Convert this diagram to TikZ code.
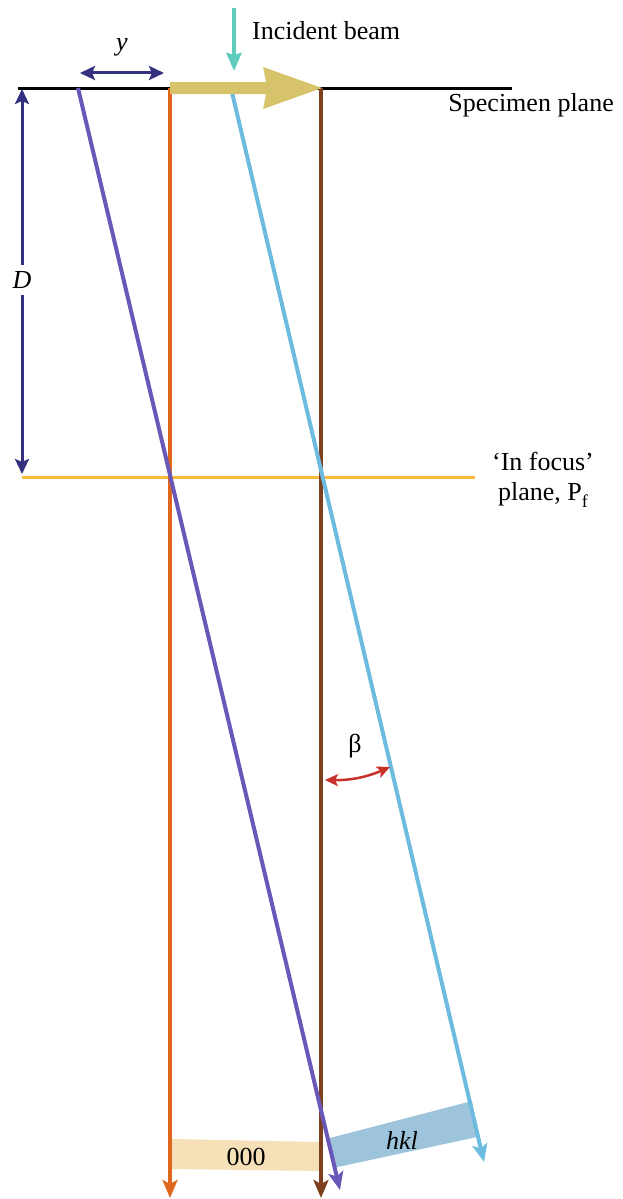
\documentclass[tikz,border=0pt]{standalone}
\usepackage{fontspec}
\setmainfont{Liberation Serif}
\usetikzlibrary{arrows.meta,calc}
\definecolor{navy}{HTML}{33307F}
\definecolor{teal1}{HTML}{5FCDBE}
\definecolor{khaki}{HTML}{D6C36A}
\definecolor{orng}{HTML}{E0661B}
\definecolor{brwn}{HTML}{7E3F1F}
\definecolor{purp}{HTML}{6A58B8}
\definecolor{lblue}{HTML}{6DBCDF}
\definecolor{yline}{HTML}{F7BC3C}
\definecolor{redarr}{HTML}{C8312A}
\definecolor{peach}{HTML}{F6E0B8}
\definecolor{bandblue}{HTML}{9DC4DA}
\tikzset{
  ray/.style={line width=4pt,-{Stealth[length=18pt,width=15pt,inset=4pt]}},
  dim/.style={line width=3pt,navy,{Stealth[length=15pt,width=14pt,inset=3pt]}-{Stealth[length=15pt,width=14pt,inset=3pt]}},
  lbl/.style={font=\fontsize{26}{30}\selectfont,inner sep=1pt},
}
\begin{document}
\begin{tikzpicture}[x=1pt,y=-1pt]
\useasboundingbox (0,0) rectangle (623,1199);
% coordinates
\coordinate (sL) at (18,88);
\coordinate (sR) at (512,88);
\coordinate (fL) at (22,477);
\coordinate (fR) at (475,477);
\coordinate (oTop) at (170,88);
\coordinate (oBot) at (170,1198);
\coordinate (bTop) at (321,88);
\coordinate (bBot) at (321,1198);
\coordinate (pTop) at (78,88);
\coordinate (pBot) at (340,1190);
\coordinate (cTop) at (231,88);
\coordinate (cBot) at (484,1162);
% bands
\fill[peach] (172,1139) -- (321,1142) -- (321,1171) -- (172,1169) -- cycle;
\fill[bandblue] (330,1138) -- (472,1101) -- (477,1137) -- (333,1168) -- cycle;
\node[lbl] (zero) at (246,1157) {000};
\node[lbl,font=\fontsize{26}{30}\selectfont\itshape] (hkl) at (402,1140) {hkl};
% planes
\draw[line width=3pt,black] (sL) -- (sR);
\draw[line width=3pt,yline] (fL) -- (fR);
% rays
\draw[ray,orng] (oTop) -- (oBot);
\draw[ray,brwn] (bTop) -- (bBot);
\draw[ray,lblue] (cTop) -- (cBot);
\draw[ray,purp] (pTop) -- (pBot);
% khaki arrow
\fill[khaki] (170,82) -- (266,82) -- (263,67) -- (322,88) -- (263,109) -- (266,94) -- (170,94) -- cycle;
% incident beam
\coordinate (iTop) at (234,8);
\coordinate (iBot) at (234,71);
\draw[line width=4pt,teal1,-{Stealth[length=18pt,width=15pt,inset=2pt]}] (iTop) -- (iBot);
\node[lbl,anchor=west] (inc) at (251,31) {Incident beam};
% y dimension
\coordinate (yL) at (80,73);
\coordinate (yR) at (164,73);
\draw[dim] (yL) -- (yR);
\node[lbl,font=\fontsize{26}{30}\selectfont\itshape] (ylab) at (122,47) {y};
% D dimension
\coordinate (dT) at (22,89);
\coordinate (dB) at (22,474);
\draw[dim] (dT) -- (dB);
\node[lbl,fill=white,inner sep=6pt,font=\fontsize{26}{30}\selectfont\itshape] (Dlab) at (22,280) {D};
% labels
\node[lbl,anchor=east] (spec) at (615,105) {Specimen plane};
\node[lbl,align=center] (focus) at (543,480) {‘In focus’\\plane, P\raisebox{-0.25em}{\fontsize{18}{20}\selectfont f}};
% beta
\coordinate (b1) at (325,780);
\coordinate (b2) at (390,767);
\draw[line width=2.5pt,redarr,{Stealth[length=13pt,width=12pt,inset=3pt]}-{Stealth[length=13pt,width=12pt,inset=3pt]}] (b1) to[bend right=12] (b2);
\node[lbl] (beta) at (355,746) {β};
\end{tikzpicture}
\end{document}
